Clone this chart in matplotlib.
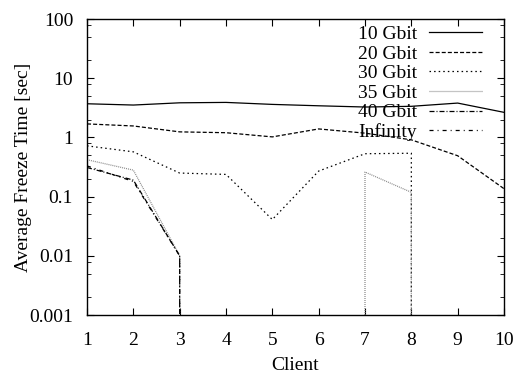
import matplotlib
matplotlib.use("Agg")
import matplotlib.pyplot as plt
from matplotlib.ticker import LogLocator, NullFormatter

plt.rcParams['font.family'] = ['Liberation Serif', 'DejaVu Serif']
plt.rcParams['lines.scale_dashes'] = False

ZERO = 1e-9  # value below the axis range (gnuplot shows it as a drop to the bottom)

labels = ["10 Gbit", "20 Gbit", "30 Gbit", "35 Gbit", "40 Gbit", "Infinity"]

x_10 = [1, 2, 3, 4, 5, 6, 7, 8, 9, 10]
y_10 = [3.70, 3.52, 3.84, 3.90, 3.61, 3.42, 3.26, 3.35, 3.80, 2.65]

x_20 = [1, 2, 3, 4, 5, 6, 7, 8, 9, 10]
y_20 = [1.69, 1.56, 1.24, 1.20, 1.02, 1.39, 1.18, 0.91, 0.49, 0.136]

x_30 = [1, 2, 3, 4, 5, 6, 7, 8, 8]
y_30 = [0.72, 0.57, 0.25, 0.237, 0.041, 0.27, 0.53, 0.54, ZERO]

x_35 = [1, 2, 3, 3, 7, 7, 8, 8]
y_35 = [0.42, 0.28, 0.01, ZERO, ZERO, 0.26, 0.118, ZERO]

x_40 = [1, 2, 3, 3]
y_40 = [0.31, 0.19, 0.01, ZERO]

x_inf = [1, 2, 3, 3]
y_inf = [0.33, 0.18, 0.01, ZERO]

xs = [x_10, x_20, x_30, x_35, x_40, x_inf]
ys = [y_10, y_20, y_30, y_35, y_40, y_inf]

styles = [
    dict(color='black', linestyle='-'),
    dict(color='black', linestyle=(0, (2.9, 1.5))),
    dict(color='black', linestyle=(0, (1.1, 2.2))),
    dict(color='#8a8a8a', linestyle=(0, (0.72, 0.72))),
    dict(color='black', linestyle=(0, (3.6, 1.44, 0.72, 1.44))),
    dict(color='black', linestyle=(0, (2.9, 2.9, 0.72, 2.9))),
]

fig = plt.figure(figsize=(5.14, 3.74), dpi=100)
ax = fig.add_axes([87/514, 1 - 315/374, (504-87)/514, (315-19)/374])

for xv, yv, lab, st in zip(xs, ys, labels, styles):
    ax.plot(xv, yv, label=lab, linewidth=0.9, **st)

ax.set_yscale('log')
ax.set_xlim(1, 10)
ax.set_ylim(0.001, 100)
ax.set_xticks(range(1, 11))
ax.set_yticks([0.001, 0.01, 0.1, 1, 10, 100])
ax.set_yticklabels(["0.001", "0.01", "0.1", "1", "10", "100"])
ax.yaxis.set_minor_locator(LogLocator(base=10, subs=(2, 5, 8)))
ax.yaxis.set_minor_formatter(NullFormatter())

ax.tick_params(axis='both', which='major', direction='in', length=5, width=0.8,
               top=True, right=True, labelsize=14)
ax.tick_params(axis='x', which='major', pad=12)
ax.tick_params(axis='y', which='major', pad=10)
ax.tick_params(axis='y', which='minor', direction='in', length=3, width=0.6,
               left=True, right=True)
for s in ax.spines.values():
    s.set_linewidth(1.0)

ax.set_xlabel("Client", fontsize=14, labelpad=6)
ax.set_ylabel("Average Freeze Time [sec]", fontsize=14, labelpad=-2)

leg = ax.legend(loc='upper right', frameon=False, markerfirst=False, fontsize=14,
                handlelength=2.7, handletextpad=0.65, labelspacing=0.1,
                borderaxespad=0.0, borderpad=0.0,
                bbox_to_anchor=(0.947, 0.978))
for t in leg.get_texts():
    t.set_ha('right')

fig.savefig("out.png", dpi=100)
